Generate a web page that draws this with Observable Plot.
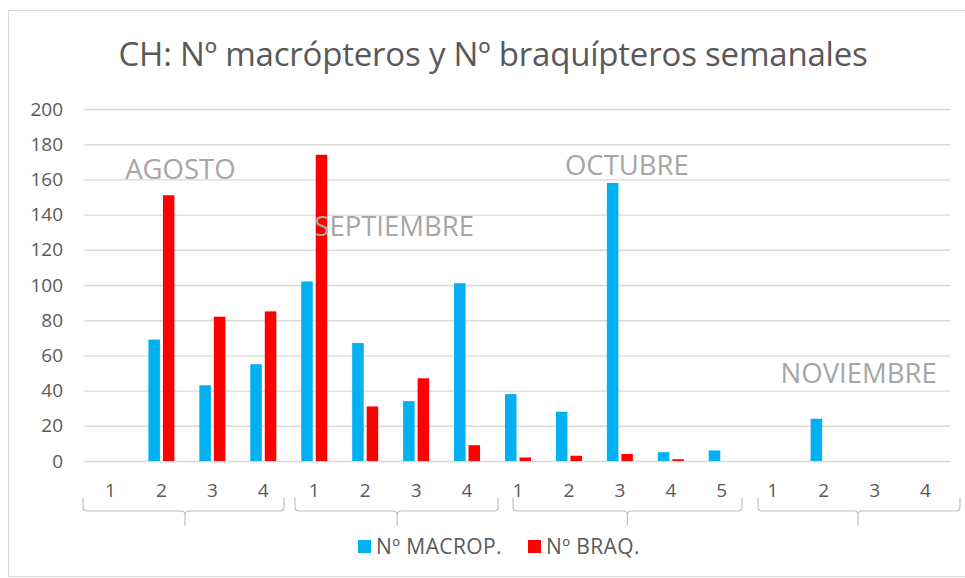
<!DOCTYPE html>
<html>
<head>
<meta charset="utf-8">
<script src="https://cdn.jsdelivr.net/npm/d3@7"></script>
<script src="https://cdn.jsdelivr.net/npm/@observablehq/plot@0.6"></script>
<style>
  html, body { margin: 0; padding: 0; background: #fff; }
  body { width: 965px; height: 578px; position: relative; overflow: hidden; font-family: "Open Sans", sans-serif; }
  #frame { position: absolute; left: 8px; top: 10px; width: 975px; height: 567px; border: 1px solid #d9d9d9; box-sizing: border-box; pointer-events: none; z-index: 2; }
  #title { height: 95px; box-sizing: border-box; padding-top: 31px; text-align: center; font-size: 33px; color: #595959; line-height: normal; white-space: nowrap; padding-left: 21px; letter-spacing: -0.2px; }
  #chart svg { display: block; }
  #legend { height: 22px; display: flex; justify-content: center; align-items: center; padding-left: 33px; font-size: 21px; color: #595959; letter-spacing: 0.4px; }
  .key { display: inline-block; width: 13px; height: 13px; margin-right: 5px; }
  .item { display: flex; align-items: center; margin: 0 13px; }
</style>
</head>
<body>
<div id="frame"></div>
<div id="title">CH: Nº macrópteros y Nº braquípteros semanales</div>
<div id="chart"></div>
<div id="legend"></div>
<script>
// ---- data ----
const months = ["AGOSTO", "SEPTIEMBRE", "OCTUBRE", "NOVIEMBRE"];
const weekLabels = ["1","2","3","4","1","2","3","4","1","2","3","4","5","1","2","3","4"];
const weekMonth = [0,0,0,0,1,1,1,1,2,2,2,2,2,3,3,3,3];
const macrop = [0,69,43,55,102,67,34,101,38,28,158,5,6,0,24,0,0];
const braq   = [0,151,82,85,174,31,47,9,2,3,4,1,0,0,0,0,0];
const seriesNames = ["Nº MACROP.", "Nº BRAQ."];
const yTicks = [0,20,40,60,80,100,120,140,160,180,200];

// ---- layout / style (not data) ----
const colors = ["#00b0f0", "#ff0000"];
const monthLabelAnchor = [1, 5, 10, 14];      // week index the label hangs from
const monthLabelDx = [19, 29, 7, 35];
const monthLabelY = [165.4, 132.9, 167.6, 49.6];
const bracketLeftNudge = [-1.5, 6.7, 21, 11.3];
const bracketRightNudge = [-4.3, 6, -4.7, 9.5];
const bracketCenterNudge = [-1.4, 7, 8, 9.4];

const W = 965, H = 440;
const idx = d3.range(weekLabels.length);
const rows = idx.map(i => ({i, macrop: macrop[i], braq: braq[i]}));

const marginLeft = 84.5, marginRight = 14.5;
const bw = (W - marginLeft - marginRight) / idx.length;

const labelMarks = months.map((m, k) =>
  Plot.text([{m, i: monthLabelAnchor[k], y: monthLabelY[k]}],
    {x: "i", y: "y", dx: monthLabelDx[k], text: "m", fontSize: 27.5, fill: "#a6a6a6", textAnchor: "middle"}));

const chart = Plot.plot({
  width: W,
  height: H,
  marginTop: 14,
  marginBottom: 74,
  marginLeft,
  marginRight,
  style: {fontFamily: "'Open Sans', sans-serif", color: "#595959", background: "white", overflow: "visible"},
  x: {type: "band", domain: idx, padding: 0, round: false},
  y: {domain: [0, 200]},
  marks: [
    Plot.gridY(yTicks, {stroke: "#d9d9d9", strokeOpacity: 1, strokeWidth: 1.4}),
    Plot.axisY(yTicks, {tickSize: 0, tickPadding: 22, fontSize: 19, fill: "#595959", label: null}),
    Plot.axisX(idx, {tickSize: 0, tickPadding: 22, fontSize: 19, fill: "#595959", label: null, tickFormat: i => weekLabels[i]}),
    Plot.barY(rows, {x: "i", y: "macrop", fill: colors[0], insetLeft: bw/2 - 12.5, insetRight: bw/2 + 1}),
    Plot.barY(rows, {x: "i", y: "braq", fill: colors[1], insetLeft: bw/2 + 2, insetRight: bw/2 - 13.5}),
    ...labelMarks
  ]
});
document.getElementById("chart").appendChild(chart);

const svg = d3.select(chart);

// month brackets, positioned with the x and y scales
const xs = chart.scale("x"), ys = chart.scale("y");
const y0 = ys.apply(0);
const g = svg.append("g").attr("fill", "none").attr("stroke", "#bfbfbf").attr("stroke-width", 1.2);
months.forEach((m, k) => {
  const weeks = idx.filter(i => weekMonth[i] === k);
  const left = xs.apply(weeks[0]) + bracketLeftNudge[k];
  const right = xs.apply(weeks[weeks.length - 1]) + bw + bracketRightNudge[k];
  const center = (xs.apply(weeks[0]) + xs.apply(weeks[weeks.length - 1]) + bw) / 2 + bracketCenterNudge[k];
  const top = y0 + 36.5, mid = y0 + 50, bot = y0 + 64.5, r = 4;
  g.append("path").attr("d",
    `M${left},${top} V${mid - r} Q${left},${mid} ${left + r},${mid} H${center - r} Q${center},${mid} ${center},${mid + r} V${bot}` +
    ` M${center},${mid + r} Q${center},${mid} ${center + r},${mid} H${right - r} Q${right},${mid} ${right},${mid - r} V${top}`);
});

// legend
const legend = d3.select("#legend");
seriesNames.forEach((s, k) => {
  const it = legend.append("span").attr("class", "item");
  it.append("span").attr("class", "key").style("background", colors[k]);
  it.append("span").text(s);
});
</script>
</body>
</html>
